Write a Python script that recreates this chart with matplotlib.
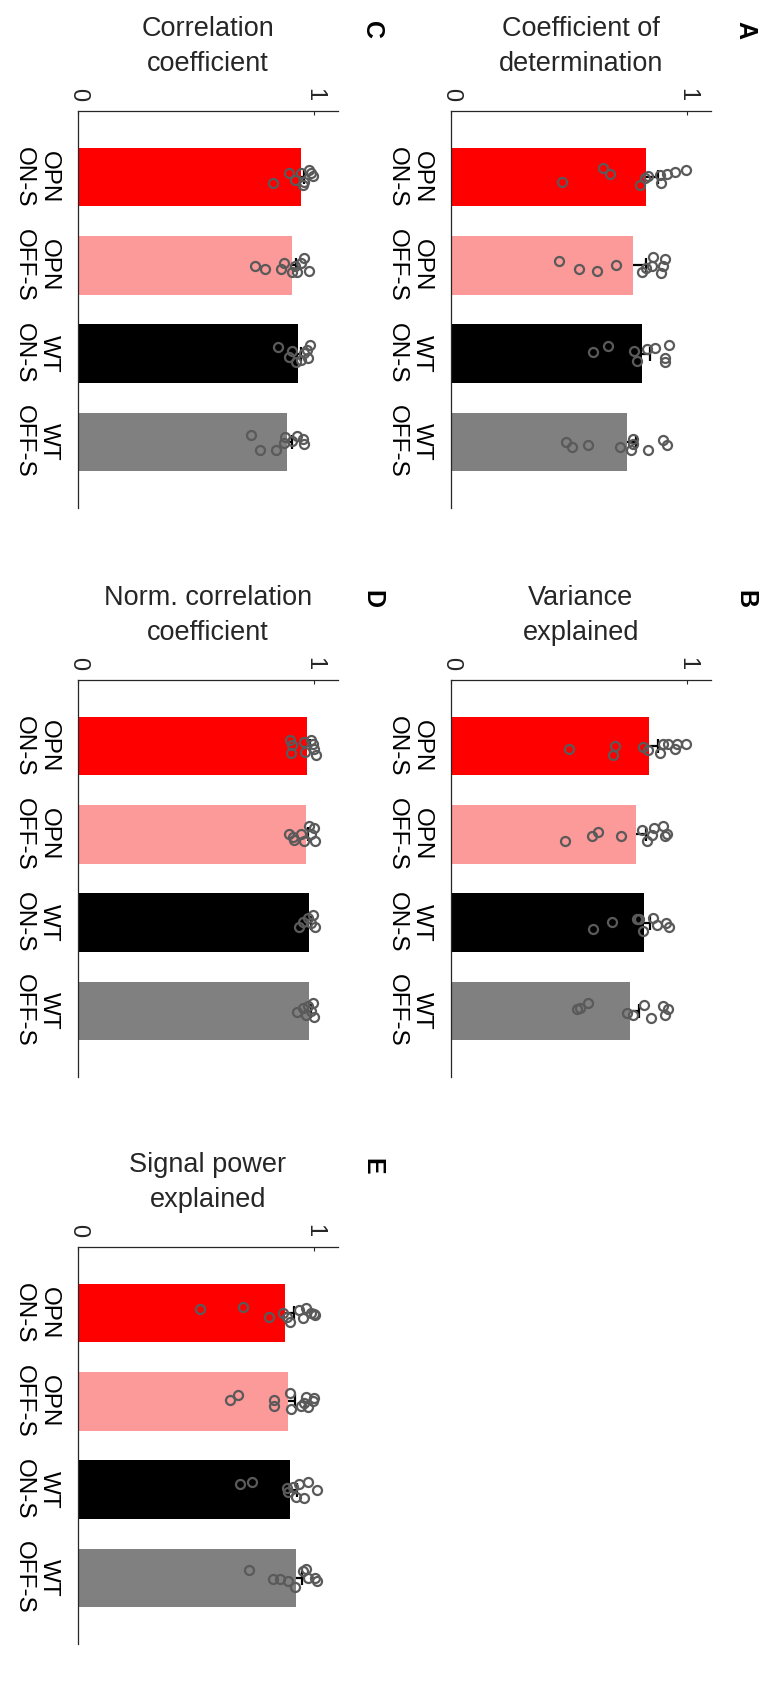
import matplotlib
matplotlib.use('Agg')
import matplotlib.pyplot as plt
import numpy as np

plt.rcParams['font.family'] = ['Liberation Sans', 'DejaVu Sans']

# groups (top to bottom) and bar colours
groups = ['OPN\nON-S', 'OPN\nOFF-S', 'WT\nON-S', 'WT\nOFF-S']
bar_colors = ['#ff0000', '#fc9999', '#000000', '#808080']

# A - coefficient of determination
cod_mean = [0.825, 0.771, 0.807, 0.743]
cod_sem = [0.050, 0.055, 0.035, 0.040]
cod_pts = [[0.468, 0.645, 0.673, 0.800, 0.821, 0.835, 0.884, 0.889, 0.915, 0.948, 0.993],
           [0.458, 0.540, 0.619, 0.698, 0.810, 0.824, 0.849, 0.856, 0.889, 0.896, 0.905],
           [0.599, 0.663, 0.774, 0.788, 0.828, 0.865, 0.905, 0.905, 0.922],
           [0.487, 0.513, 0.581, 0.715, 0.760, 0.769, 0.772, 0.835, 0.896, 0.913]]
cod_jit = [[0.05, -0.10, -0.04, 0.09, 0.01, -0.01, -0.03, 0.07, -0.04, -0.06, -0.08],
           [-0.045, 0.04, 0.06, 0.0, 0.07, 0.03, 0.01, -0.10, 0.09, 0.01, -0.07],
           [-0.015, -0.09, -0.03, 0.08, -0.05, -0.06, 0.05, 0.09, -0.10],
           [0.0, 0.06, 0.04, 0.06, 0.09, 0.02, -0.03, 0.09, -0.02, 0.04]]

# B - variance explained
ve_mean = [0.838, 0.783, 0.817, 0.759]
ve_sem = [0.037, 0.040, 0.023, 0.035]
ve_pts = [[0.499, 0.684, 0.694, 0.814, 0.835, 0.884, 0.896, 0.920, 0.948, 0.955, 0.994],
          [0.484, 0.595, 0.623, 0.718, 0.810, 0.828, 0.849, 0.859, 0.898, 0.906, 0.913],
          [0.602, 0.680, 0.786, 0.797, 0.814, 0.853, 0.870, 0.910, 0.924],
          [0.532, 0.546, 0.581, 0.743, 0.769, 0.817, 0.845, 0.898, 0.906, 0.920]]
ve_jit = [[0.03, 0.10, 0.0, 0.01, 0.04, 0.08, -0.02, -0.02, 0.03, -0.03, -0.03],
          [0.08, 0.02, -0.03, 0.02, -0.05, 0.08, 0.01, -0.07, -0.09, 0.02, -0.01],
          [0.07, -0.01, -0.04, -0.04, 0.09, -0.05, 0.03, 0.01, 0.045],
          [-0.02, -0.03, -0.09, 0.02, 0.045, -0.07, 0.08, -0.05, 0.045, -0.02]]

# C - correlation coefficient
cc_mean = [0.944, 0.904, 0.930, 0.883]
cc_sem = [0.012, 0.018, 0.012, 0.022]
cc_pts = [[0.827, 0.894, 0.920, 0.944, 0.951, 0.958, 0.976, 0.986, 0.996],
          [0.749, 0.792, 0.859, 0.873, 0.906, 0.920, 0.927, 0.944, 0.958, 0.979],
          [0.845, 0.892, 0.906, 0.923, 0.944, 0.958, 0.968, 0.972, 0.983],
          [0.732, 0.772, 0.838, 0.873, 0.877, 0.904, 0.927, 0.951, 0.958]]
cc_jit = [[0.07, -0.045, 0.03, -0.045, 0.09, 0.05, -0.08, -0.045, -0.01],
          [0.01, 0.04, 0.04, -0.03, 0.08, 0.01, 0.08, -0.03, -0.08, 0.06],
          [-0.075, 0.04, -0.03, 0.09, 0.07, -0.01, -0.045, 0.05, -0.095],
          [-0.08, 0.095, 0.095, 0.01, -0.06, -0.01, -0.065, -0.035, 0.02]]

# D - normalised correlation coefficient
ncc_mean = [0.968, 0.965, 0.979, 0.979]
ncc_sem = [0.014, 0.010, 0.008, 0.008]
ncc_pts = [[0.899, 0.906, 0.901, 0.958, 0.962, 0.986, 0.993, 0.997, 1.007],
           [0.892, 0.908, 0.915, 0.944, 0.955, 0.979, 0.986, 0.997, 1.004],
           [0.934, 0.951, 0.972, 0.986, 0.993, 1.004],
           [0.927, 0.951, 0.965, 0.972, 0.986, 0.996, 1.000]]
ncc_jit = [[-0.07, -0.01, 0.075, -0.05, 0.065, -0.07, -0.02, 0.03, 0.10],
           [0.0, 0.025, 0.065, 0.0, 0.07, -0.09, 0.0, -0.07, 0.08],
           [0.045, -0.01, -0.05, 0.01, -0.09, 0.045],
           [0.01, -0.03, 0.045, -0.05, 0.0, -0.09, 0.065]]

# E - signal power explained
spe_mean = [0.877, 0.887, 0.899, 0.923]
spe_sem = [0.035, 0.030, 0.027, 0.025]
spe_pts = [[0.517, 0.700, 0.807, 0.869, 0.883, 0.897, 0.937, 0.951, 0.965, 0.986, 1.000, 1.004],
           [0.644, 0.677, 0.831, 0.831, 0.897, 0.901, 0.944, 0.958, 0.965, 0.972, 0.993, 1.000],
           [0.687, 0.737, 0.883, 0.887, 0.908, 0.923, 0.937, 0.958, 0.972, 1.010],
           [0.725, 0.827, 0.856, 0.887, 0.920, 0.951, 0.965, 0.972, 1.004, 1.010]]
spe_jit = [[-0.05, -0.07, 0.04, 0.0, 0.04, 0.10, -0.04, 0.06, -0.06, 0.0, 0.01, 0.02],
           [-0.02, -0.07, -0.02, 0.05, -0.09, 0.09, 0.05, 0.015, -0.05, 0.065, 0.0, -0.04],
           [-0.06, -0.085, -0.015, 0.03, -0.035, 0.08, -0.06, 0.09, -0.09, 0.0],
           [-0.09, 0.015, 0.01, 0.035, 0.10, -0.08, -0.10, 0.0, 0.0, 0.035]]

W, H = 771, 1686
fig = plt.figure(figsize=(W / 100, H / 100), dpi=100)

def axes_px(left, top, w, h):
    return fig.add_axes([left / W, 1 - (top + h) / H, w / W, h / H])

panels = [
    ('A', 'Coefficient of\ndetermination', cod_mean, cod_sem, cod_pts, cod_jit, (451, 111)),
    ('B', 'Variance\nexplained', ve_mean, ve_sem, ve_pts, ve_jit, (451, 680)),
    ('C', 'Correlation\ncoefficient', cc_mean, cc_sem, cc_pts, cc_jit, (78, 111)),
    ('D', 'Norm. correlation\ncoefficient', ncc_mean, ncc_sem, ncc_pts, ncc_jit, (78, 680)),
    ('E', 'Signal power\nexplained', spe_mean, spe_sem, spe_pts, spe_jit, (78, 1247)),
]

ypos = np.arange(1, len(groups) + 1)

for letter, title, mean, sem, pts, jit, (lx, ty) in panels:
    ax = axes_px(lx, ty, 260, 397)

    # error bar sits behind the bar, so only the upper half shows
    ax.errorbar(mean, ypos, xerr=sem, fmt='none', ecolor='k', elinewidth=1.6,
                capsize=4.7, capthick=1.6, zorder=1)
    ax.barh(ypos, mean, height=0.66, color=bar_colors, zorder=2)
    for i in range(len(groups)):
        ax.plot(pts[i], ypos[i] + np.array(jit[i]), 'o', ms=6.5, mfc='none',
                mec='#5a5a5a', mew=1.6, zorder=3)

    ax.set_xlim(0, 1.1)
    ax.set_ylim(4.75, 0.25)

    for s in ['right', 'bottom']:
        ax.spines[s].set_visible(False)
    for s in ['top', 'left']:
        ax.spines[s].set_linewidth(0.9)
        ax.spines[s].set_color('#262626')

    ax.xaxis.tick_top()
    ax.set_xticks([0, 1])
    ax.set_xticklabels(['0', '1'], rotation=-90)
    ax.tick_params(axis='x', direction='in', length=3, pad=7, labelsize=17,
                   color='#262626', labelcolor='#262626')

    ax.set_yticks(ypos)
    ax.set_yticklabels(groups)
    ax.tick_params(axis='y', direction='in', length=3, pad=13, labelsize=17.5,
                   color='#262626', labelcolor='k')
    for lbl in ax.get_yticklabels():
        lbl.set_rotation(-90)
        lbl.set_va('center')
        lbl.set_ha('right')
        lbl.set_multialignment('center')

    ax.annotate(title, xy=(0.5, 1), xycoords='axes fraction', xytext=(0, 34),
                textcoords='offset pixels', ha='center', va='bottom',
                fontsize=19.5, color='#262626', linespacing=1.45)
    ax.annotate(letter, xy=(0, 1), xycoords='axes fraction', xytext=(294, 81),
                textcoords='offset pixels', ha='center', va='center',
                rotation=-90, fontsize=18, fontweight='bold', color='k')

fig.savefig('out.png', dpi=100)
